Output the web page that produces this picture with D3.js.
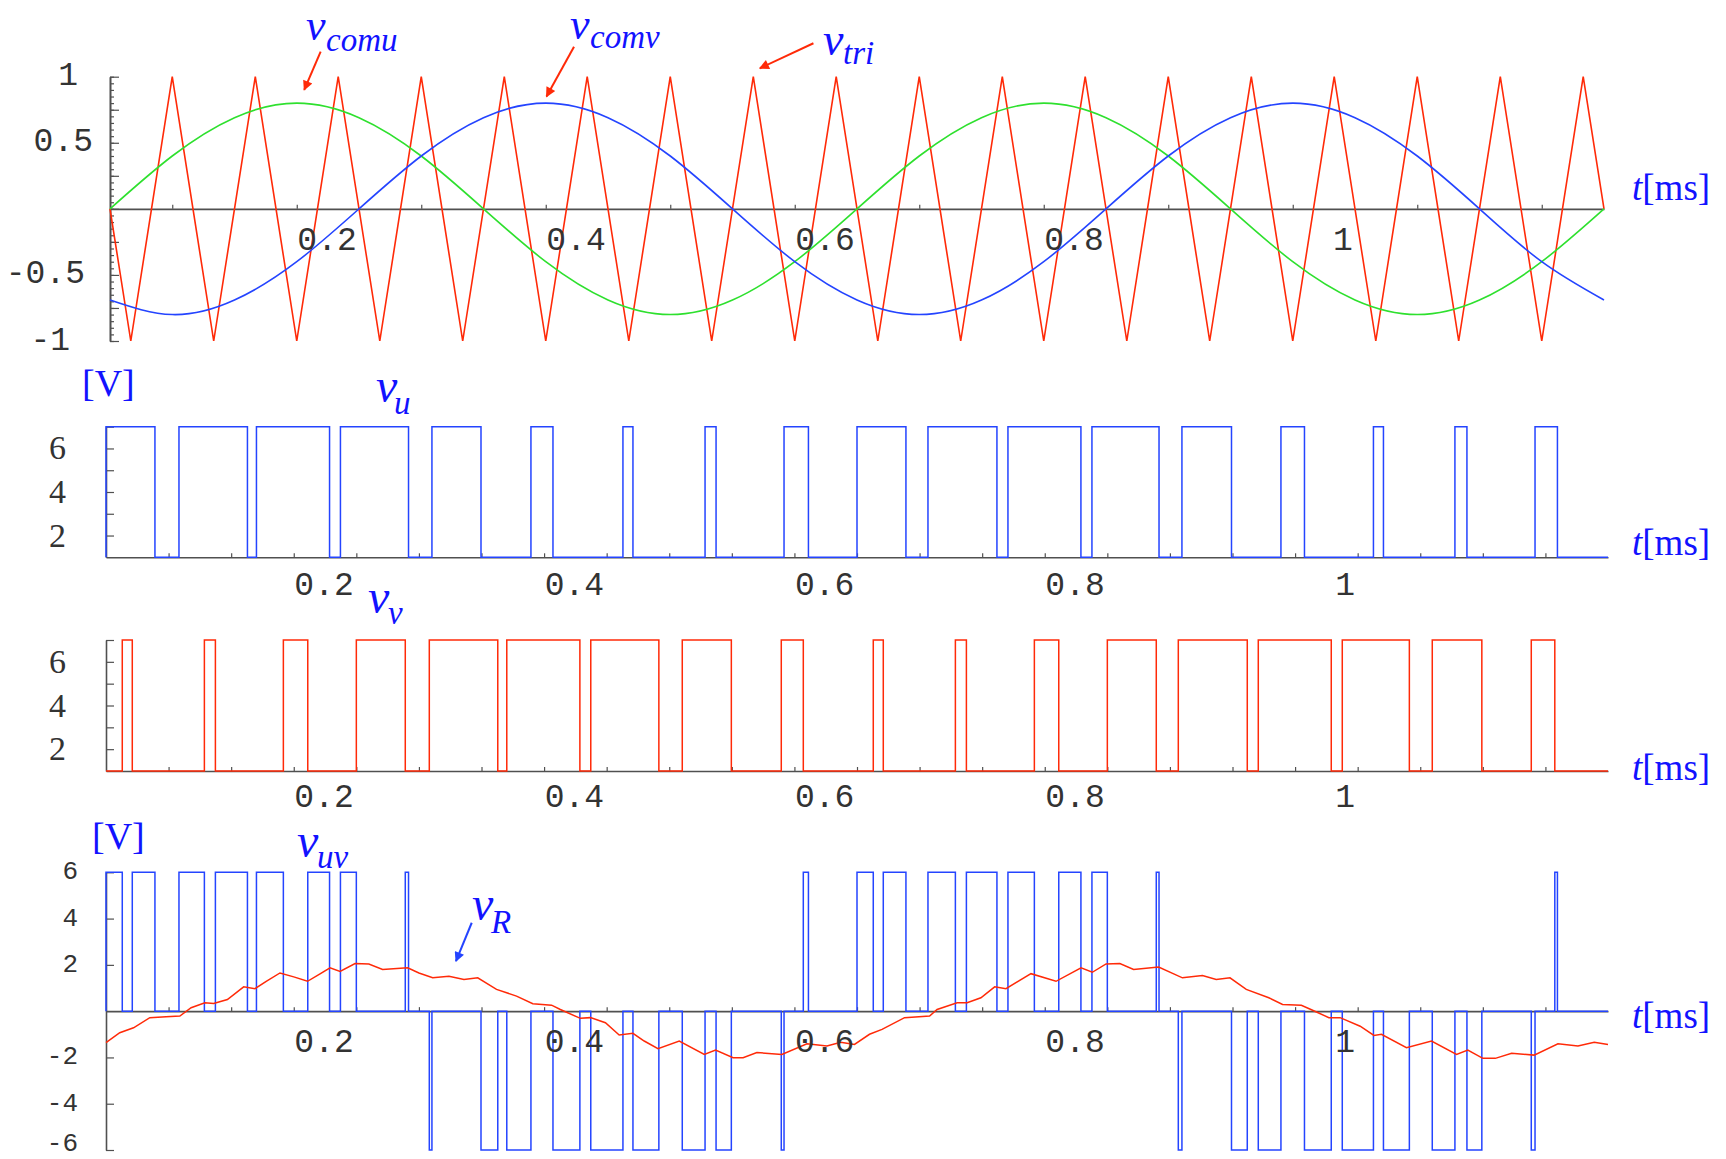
<!DOCTYPE html>
<html>
<head>
<meta charset="utf-8">
<script src="https://cdn.jsdelivr.net/npm/d3@7"></script>
<style>
  body { margin: 0; background: #fff; }
  svg { display: block; }
</style>
</head>
<body>
<svg id="chart" width="1726" height="1159"></svg>
<script>
'use strict';

// ---- data (time in ms) ----
var sineTimes = [0.05, 0.10, 0.15, 0.20, 0.25, 0.30, 0.35, 0.40, 0.45, 0.50, 0.55, 0.60, 0.65,
                 0.70, 0.75, 0.80, 0.85, 0.90, 0.95, 1.00, 1.05, 1.10, 1.15, 1.20, 1.25];
var vcomu = [0, 0.40, 0.69, 0.80, 0.69, 0.40, 0, -0.40, -0.69, -0.80, -0.69, -0.40, 0,
             0.40, 0.69, 0.80, 0.69, 0.40, 0, -0.40, -0.69, -0.80, -0.69, -0.40, 0];
var vcomv = [-0.69, -0.80, -0.69, -0.40, 0, 0.40, 0.69, 0.80, 0.69, 0.40, 0, -0.40, -0.69,
             -0.80, -0.69, -0.40, 0, 0.40, 0.69, 0.80, 0.69, 0.40, 0, -0.40, -0.69];

// carrier corners
var triTimes = [0.05, 0.0667, 0.1, 0.1333, 0.1667, 0.2, 0.2333, 0.2667, 0.3, 0.3333, 0.3667, 0.4,
                0.4333, 0.4667, 0.5, 0.5333, 0.5667, 0.6, 0.6333, 0.6667, 0.7, 0.7333, 0.7667, 0.8,
                0.8333, 0.8667, 0.9, 0.9333, 0.9667, 1.0, 1.0333, 1.0667, 1.1, 1.1333, 1.1667, 1.2,
                1.2333, 1.25];
var triValues = [0, -1, 1, -1, 1, -1, 1, -1, 1, -1, 1, -1, 1, -1, 1, -1, 1, -1, 1, -1, 1, -1, 1, -1,
                 1, -1, 1, -1, 1, -1, 1, -1, 1, -1, 1, -1, 1, 0];

// switching intervals where the phase voltage is high
var vuHigh = [[0.05, 0.0891], [0.1083, 0.1630], [0.1702, 0.2286], [0.2373, 0.2917], [0.3104, 0.3496],
              [0.3895, 0.4071], [0.4630, 0.4710], [0.5286, 0.5374], [0.5917, 0.6112], [0.6500, 0.6891],
              [0.7067, 0.7618], [0.7706, 0.8289], [0.8377, 0.8913], [0.9096, 0.9492], [0.9887, 1.0075],
              [1.0626, 1.0706], [1.1277, 1.1373], [1.1917, 1.2096]];
var vvHigh = [[0.0630, 0.0710], [0.1286, 0.1374], [0.1917, 0.2112], [0.2500, 0.2891], [0.3083, 0.3630],
              [0.3702, 0.4286], [0.4373, 0.4917], [0.5104, 0.5496], [0.5895, 0.6071], [0.6630, 0.6710],
              [0.7286, 0.7374], [0.7917, 0.8112], [0.8500, 0.8891], [0.9067, 0.9618], [0.9706, 1.0289],
              [1.0377, 1.0913], [1.1096, 1.1492], [1.1887, 1.2075]];
var pwmHighLevel = 7;
var pwmLowLevel = 1;

// line voltage pulses (+6 / -6)
var vuvPos = [[0.05, 0.0630], [0.0710, 0.0891], [0.1083, 0.1286], [0.1374, 0.1630], [0.1702, 0.1917],
              [0.2112, 0.2286], [0.2373, 0.2500], [0.2891, 0.2917], [0.6071, 0.6112], [0.6500, 0.6630],
              [0.6710, 0.6891], [0.7067, 0.7286], [0.7374, 0.7618], [0.7706, 0.7917], [0.8112, 0.8289],
              [0.8377, 0.8500], [0.8891, 0.8913], [1.2075, 1.2096]];
var vuvNeg = [[0.3083, 0.3104], [0.3496, 0.3630], [0.3702, 0.3895], [0.4071, 0.4286], [0.4373, 0.4630],
              [0.4710, 0.4917], [0.5104, 0.5286], [0.5374, 0.5496], [0.5895, 0.5917], [0.9067, 0.9096],
              [0.9492, 0.9618], [0.9706, 0.9887], [1.0075, 1.0289], [1.0377, 1.0626], [1.0706, 1.0913],
              [1.1096, 1.1277], [1.1373, 1.1492], [1.1887, 1.1917]];
var vuvLevel = 6;

var vRTimes = [0.050, 0.061, 0.072, 0.085, 0.098, 0.109, 0.118, 0.129, 0.136, 0.147, 0.160, 0.169,
               0.178, 0.189, 0.200, 0.211, 0.220, 0.229, 0.237, 0.249, 0.260, 0.271, 0.291, 0.300,
               0.311, 0.324, 0.336, 0.347, 0.362, 0.378, 0.391, 0.406, 0.413, 0.429, 0.437, 0.449,
               0.460, 0.471, 0.480, 0.491, 0.508, 0.528, 0.537, 0.551, 0.559, 0.570, 0.590, 0.610,
               0.626, 0.637, 0.648, 0.660, 0.670, 0.688, 0.708, 0.714, 0.730, 0.738, 0.749, 0.760,
               0.769, 0.789, 0.809, 0.829, 0.838, 0.849, 0.860, 0.871, 0.891, 0.910, 0.926, 0.937,
               0.948, 0.961, 0.979, 0.990, 1.005, 1.014, 1.027, 1.036, 1.052, 1.063, 1.069, 1.089,
               1.109, 1.129, 1.138, 1.150, 1.160, 1.173, 1.191, 1.210, 1.226, 1.239, 1.250];
var vRValues = [-1.36, -0.93, -0.72, -0.28, -0.24, -0.21, 0.15, 0.36, 0.33, 0.50, 1.05, 0.97,
                1.29, 1.65, 1.48, 1.29, 1.58, 1.87, 1.72, 2.06, 2.04, 1.80, 1.87, 1.65,
                1.44, 1.51, 1.37, 1.44, 0.94, 0.65, 0.32, 0.26, 0.07, -0.31, -0.28, -0.50,
                -1.03, -0.96, -1.29, -1.62, -1.29, -1.87, -1.68, -2.01, -2.01, -1.79, -1.87, -1.41,
                -1.51, -1.34, -1.44, -1.00, -0.79, -0.28, -0.21, 0.07, 0.36, 0.36, 0.58, 1.05,
                0.97, 1.62, 1.29, 1.87, 1.68, 2.04, 2.06, 1.80, 1.91, 1.44, 1.54, 1.37,
                1.44, 0.94, 0.58, 0.29, 0.25, 0.04, -0.28, -0.28, -0.65, -1.05, -1.00, -1.58,
                -1.29, -1.87, -1.68, -2.04, -2.04, -1.82, -1.90, -1.41, -1.51, -1.34, -1.44];

var xTickValues = [0.2, 0.4, 0.6, 0.8, 1];
var xTickLabels = ['0.2', '0.4', '0.6', '0.8', '1'];
var topYValues = [1, 0.5, -0.5, -1];
var topYLabels = ['1', '0.5', '-0.5', '-1'];
var pwmYValues = [6, 4, 2];
var pwmYLabels = ['6', '4', '2'];
var vuvYValues = [6, 4, 2, -2, -4, -6];
var vuvYLabels = ['6', '4', '2', '-2', '-4', '-6'];

// ---- look ----
var RED = '#ff2a08', GREEN = '#2ee02e', BLUE = '#2444ff', LABEL_BLUE = '#1212ff', AXIS = '#505050';
var TICK_TEXT = '#333';
var MONO = "'Liberation Mono', 'Courier New', monospace";
var SERIF = "'Liberation Serif', 'Times New Roman', serif";

var svg = d3.select('#chart');
svg.append('rect').attr('width', 1726).attr('height', 1159).attr('fill', '#fff');

var defs = svg.append('defs');
[['arrow-red', RED], ['arrow-blue', BLUE]].forEach(function (m) {
    defs.append('marker').attr('id', m[0]).attr('viewBox', '0 0 10 10')
        .attr('refX', 9).attr('refY', 5).attr('markerWidth', 14).attr('markerHeight', 10)
        .attr('markerUnits', 'userSpaceOnUse').attr('orient', 'auto')
        .append('path').attr('d', 'M0,0 L10,5 L0,10 z').attr('fill', m[1]);
});

// scales
var xTop = d3.scaleLinear().domain([0.05, 1.25]).range([110, 1604]);
var xLow = d3.scaleLinear().domain([0.05, 1.25]).range([106, 1608]);
var yTop = d3.scaleLinear().domain([-1, 1]).range([341, 76.7]);
var yU = d3.scaleLinear().domain([1, 7]).range([557.3, 426.7]);
var yV = d3.scaleLinear().domain([1, 7]).range([771, 640]);
var yUV = d3.scaleLinear().domain([-6, 6]).range([1150, 872.3]);

var styleAxis = function (g) {
    g.select('.domain').attr('stroke', AXIS).attr('stroke-width', 1.6);
    g.selectAll('.tick line').attr('stroke', AXIS).attr('stroke-width', 1.2);
    g.selectAll('.tick text').remove();
};

var drawXAxis = function (x, yPos, ticks) {
    svg.append('g').attr('transform', 'translate(0,' + yPos + ')')
        .call(d3.axisTop(x).tickValues(ticks).tickSize(4).tickSizeOuter(0).tickFormat(''))
        .call(styleAxis);
};

var drawYAxis = function (xPos, y, ticks, size) {
    svg.append('g').attr('transform', 'translate(' + xPos + ',0)')
        .call(d3.axisRight(y).tickValues(ticks).tickSize(size).tickSizeOuter(0).tickFormat(''))
        .call(styleAxis);
};

var drawXLabels = function (x, baseline, shift) {
    svg.append('g').selectAll('text').data(xTickValues).enter().append('text')
        .attr('x', function (d) { return x(d) + shift; })
        .attr('y', baseline)
        .attr('text-anchor', 'end')
        .attr('font-family', MONO).attr('font-size', 33).attr('fill', TICK_TEXT)
        .text(function (d, i) { return xTickLabels[i]; });
};

// labels sit next to their tick, but never below the picture's bottom
var drawYLabels = function (values, labels, y, right, dy, font, size) {
    svg.append('g').selectAll('text').data(values).enter().append('text')
        .attr('x', function (d, i) { return typeof right === 'function' ? right(i) : right; })
        .attr('y', function (d) { return Math.min(y(d) + dy, 1151); })
        .attr('text-anchor', 'end')
        .attr('font-family', font).attr('font-size', size).attr('fill', TICK_TEXT)
        .text(function (d, i) { return labels[i]; });
};

var tLabel = function (baseline) {
    var t = svg.append('text').attr('x', 1632).attr('y', baseline)
        .attr('font-family', SERIF).attr('font-size', 37).attr('fill', LABEL_BLUE);
    t.append('tspan').attr('font-style', 'italic').text('t');
    t.append('tspan').text('[ms]');
};

var vLabel = function (x, y, sub, subX, subY, size) {
    svg.append('text').attr('x', x).attr('y', y)
        .attr('font-family', SERIF).attr('font-style', 'italic').attr('font-size', size || 48)
        .attr('fill', LABEL_BLUE).text('v');
    svg.append('text').attr('x', subX).attr('y', subY)
        .attr('font-family', SERIF).attr('font-style', 'italic').attr('font-size', 33)
        .attr('fill', LABEL_BLUE).text(sub);
};

var unitLabel = function (x, y) {
    svg.append('text').attr('x', x).attr('y', y)
        .attr('font-family', SERIF).attr('font-size', 38).attr('fill', LABEL_BLUE).text('[V]');
};

var arrow = function (x, y, from, to, color, id) {
    svg.append('line')
        .attr('x1', x(from[0])).attr('y1', y(from[1]))
        .attr('x2', x(to[0])).attr('y2', y(to[1]))
        .attr('stroke', color).attr('stroke-width', 2)
        .attr('marker-end', 'url(#' + id + ')');
};

// step series from pulse intervals
var pulsePoints = function (pulses, base) {
    var pts = [[0.05, base]];
    pulses.forEach(function (p) {
        pts.push([p[0], p[2]]);
        pts.push([p[1], base]);
    });
    pts.push([1.25, base]);
    return pts;
};

var withLevel = function (list, level) {
    return list.map(function (p) { return [p[0], p[1], level]; });
};

// ---- panel 1: carrier and references ----
var topMajor = d3.range(-4, 5).map(function (i) { return i / 4; });
var topMinor = d3.range(-20, 21).map(function (i) { return i / 20; });
drawXAxis(xTop, yTop(0), d3.range(1, 13).map(function (i) { return i / 10; }));
drawYAxis(110, yTop, topMinor, 4);
drawYAxis(110, yTop, topMajor, 9);

var lineTop = function (times, values, curve) {
    return d3.line()
        .x(function (d, i) { return xTop(times[i]); })
        .y(function (d) { return yTop(d); })
        .curve(curve)(values);
};

svg.append('path').attr('d', lineTop(triTimes, triValues, d3.curveLinear))
    .attr('fill', 'none').attr('stroke', RED).attr('stroke-width', 1.6);
svg.append('path').attr('d', lineTop(sineTimes, vcomu, d3.curveNatural))
    .attr('fill', 'none').attr('stroke', GREEN).attr('stroke-width', 1.6);
svg.append('path').attr('d', lineTop(sineTimes, vcomv, d3.curveNatural))
    .attr('fill', 'none').attr('stroke', BLUE).attr('stroke-width', 1.6);

var topRight = { '1': 78, '0.5': 93, '-0.5': 85, '-1': 70 };
drawYLabels(topYValues, topYLabels, yTop, function (i) { return topRight[topYLabels[i]]; }, 8.5, MONO, 33);
drawXLabels(xTop, 250, 60);
tLabel(200);

vLabel(306, 40, 'comu', 326, 51, 44);
vLabel(570, 39, 'comv', 590, 48, 44);
vLabel(823, 55, 'tri', 843, 64, 46);
arrow(xTop, yTop, [0.2192, 1.19], [0.206, 0.90], RED, 'arrow-red');
arrow(xTop, yTop, [0.4227, 1.227], [0.4006, 0.85], RED, 'arrow-red');
arrow(xTop, yTop, [0.615, 1.253], [0.572, 1.064], RED, 'arrow-red');

// ---- panels 2 and 3: phase voltages ----
var lowTicks = d3.range(2, 25).map(function (i) { return i / 20; });

var pwmPanel = function (y, highs, color, labelBase, tBase) {
    drawXAxis(xLow, y(pwmLowLevel), lowTicks);
    drawYAxis(106, y, [2, 3, 4, 5, 6, 7], 8);
    var line = d3.line()
        .x(function (d) { return xLow(d[0]); })
        .y(function (d) { return y(d[1]); })
        .curve(d3.curveStepAfter);
    svg.append('path').attr('d', line(pulsePoints(withLevel(highs, pwmHighLevel), pwmLowLevel)))
        .attr('fill', 'none').attr('stroke', color).attr('stroke-width', 1.5);
    drawYLabels(pwmYValues, pwmYLabels, y, 66, 11, SERIF, 34);
    drawXLabels(xLow, labelBase, 60);
    tLabel(tBase);
};

pwmPanel(yU, vuHigh, BLUE, 595, 555);
unitLabel(82, 396);
vLabel(376, 402, 'u', 394, 414);

pwmPanel(yV, vvHigh, RED, 807, 780);
vLabel(368, 613, 'v', 388, 624);

// ---- panel 4: line voltage and resistor voltage ----
drawXAxis(xLow, yUV(0), lowTicks);
drawYAxis(106, yUV, [-6, -4, -2, 2, 4, 6], 8);

var uvPulses = withLevel(vuvPos, vuvLevel).concat(withLevel(vuvNeg, -vuvLevel))
    .sort(function (a, b) { return a[0] - b[0]; });
var lineUV = d3.line()
    .x(function (d) { return xLow(d[0]); })
    .y(function (d) { return yUV(d[1]); })
    .curve(d3.curveStepAfter);
svg.append('path').attr('d', lineUV(pulsePoints(uvPulses, 0)))
    .attr('fill', 'none').attr('stroke', BLUE).attr('stroke-width', 1.5);

var lineR = d3.line()
    .x(function (d, i) { return xLow(vRTimes[i]); })
    .y(function (d) { return yUV(d); });
svg.append('path').attr('d', lineR(vRValues))
    .attr('fill', 'none').attr('stroke', RED).attr('stroke-width', 1.5);

drawYLabels(vuvYValues, vuvYLabels, yUV, 78, 7, MONO, 26);
drawXLabels(xLow, 1052, 60);
tLabel(1028);
unitLabel(92, 849);
vLabel(297, 857, 'uv', 317, 868);
vLabel(472, 920, 'R', 491, 933);
arrow(xLow, yUV, [0.3422, 3.82], [0.3296, 2.16], BLUE, 'arrow-blue');
</script>
</body>
</html>
